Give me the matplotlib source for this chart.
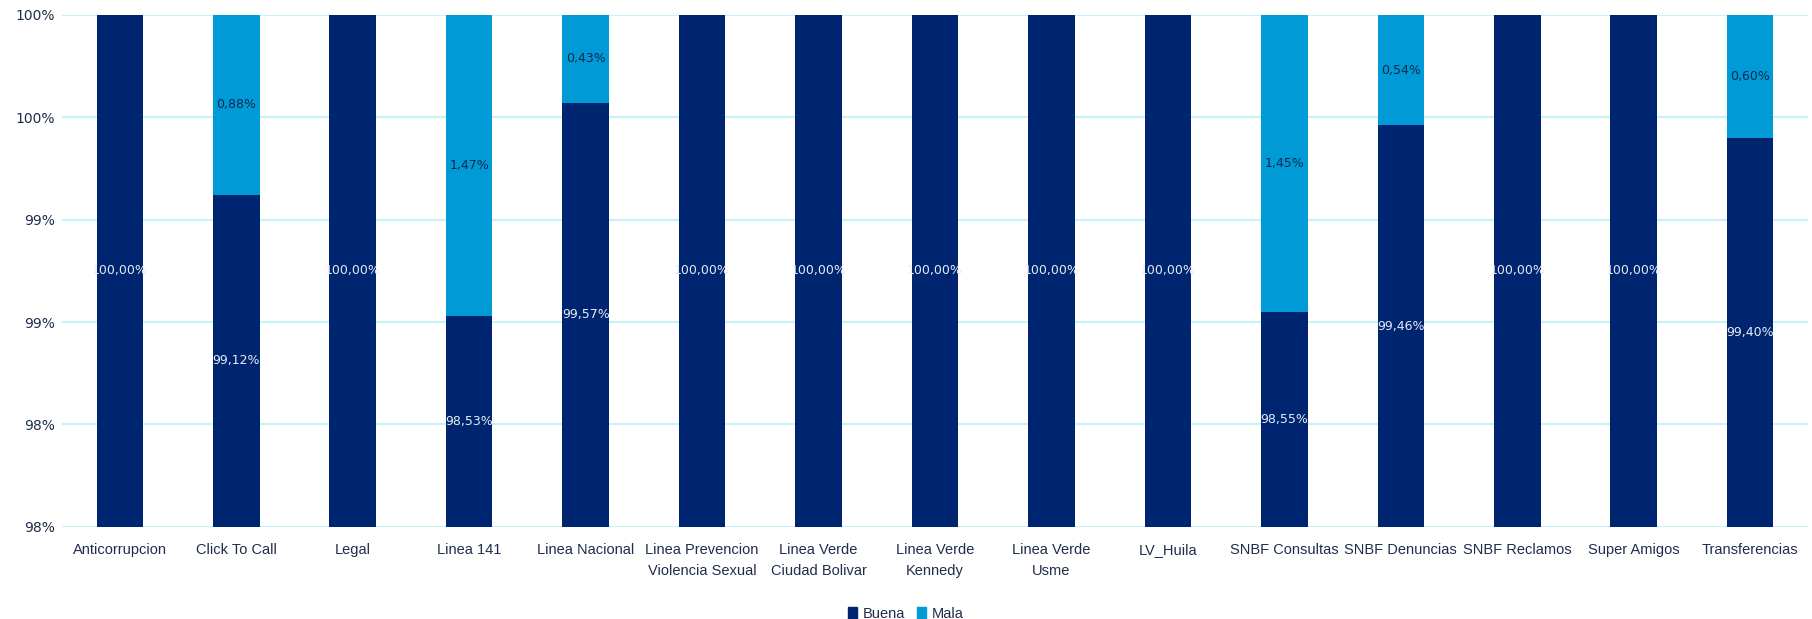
import matplotlib.pyplot as plt
import numpy as np
from matplotlib.patches import Patch

plt.rcParams["font.family"] = ["Liberation Sans Narrow", "Liberation Sans", "DejaVu Sans"]

categories = [
    "Anticorrupcion", "Click To Call", "Legal", "Linea 141", "Linea Nacional",
    "Linea Prevencion\nViolencia Sexual", "Linea Verde\nCiudad Bolivar", "Linea Verde\nKennedy",
    "Linea Verde\nUsme", "LV_Huila", "SNBF Consultas", "SNBF Denuncias", "SNBF Reclamos",
    "Super Amigos", "Transferencias",
]
buena = [100.00, 99.12, 100.00, 98.53, 99.57, 100.00, 100.00, 100.00,
         100.00, 100.00, 98.55, 99.46, 100.00, 100.00, 99.40]
mala = [0.00, 0.88, 0.00, 1.47, 0.43, 0.00, 0.00, 0.00,
        0.00, 0.00, 1.45, 0.54, 0.00, 0.00, 0.60]
y_ticks = [97.5, 98.0, 98.5, 99.0, 99.5, 100.0]
y_tick_labels = ["98%", "98%", "99%", "99%", "100%", "100%"]

c_buena = "#002570"
c_mala = "#009bd6"
c_text = "#1f2d4d"
ymin, ymax = y_ticks[0], y_ticks[-1]

fig = plt.figure(figsize=(18.12, 6.19), dpi=100)
ax = fig.add_axes([0.034, 0.149, 0.964, 0.827])

x = np.arange(len(categories))
w = 0.4
ax.bar(x, buena, w, color=c_buena, zorder=3)
ax.bar(x, mala, w, bottom=buena, color=c_mala, zorder=3)

def fmt(v):
    return f"{v:.2f}%".replace(".", ",")

for i in range(len(categories)):
    hi = min(buena[i], ymax)
    ax.text(x[i], (ymin + hi) / 2, fmt(buena[i]), ha="center", va="center",
            color="#e6ecf5", fontsize=9, family="DejaVu Sans", zorder=4)
    if mala[i] > 0:
        top = min(buena[i] + mala[i], ymax)
        ax.text(x[i], (buena[i] + top) / 2, fmt(mala[i]), ha="center", va="center",
                color="#0b2a4f", fontsize=9, family="DejaVu Sans", zorder=4)

ax.set_ylim(ymin, ymax)
ax.set_xlim(-0.5, len(categories) - 0.5)
ax.set_yticks(y_ticks)
ax.set_yticklabels(y_tick_labels, fontsize=10, color=c_text, family="DejaVu Sans")
ax.set_xticks(x)
ax.set_xticklabels(categories, fontsize=10.5, color=c_text, linespacing=1.6)
ax.tick_params(axis="both", length=0)
ax.tick_params(axis="x", pad=12)
ax.tick_params(axis="y", pad=5)
ax.grid(axis="y", color="#c4f3fa", linewidth=1.5, zorder=0)
for s in ax.spines.values():
    s.set_visible(False)

handles = [Patch(color=c_buena, label="Buena"), Patch(color=c_mala, label="Mala")]
fig.legend(handles=handles, loc="lower center", ncol=2, frameon=False,
           bbox_to_anchor=(0.5, -0.025), fontsize=10.5, handlelength=0.6,
           handleheight=1.0, handletextpad=0.4, columnspacing=0.8, labelcolor=c_text)

fig.savefig("out.png", dpi=100)
